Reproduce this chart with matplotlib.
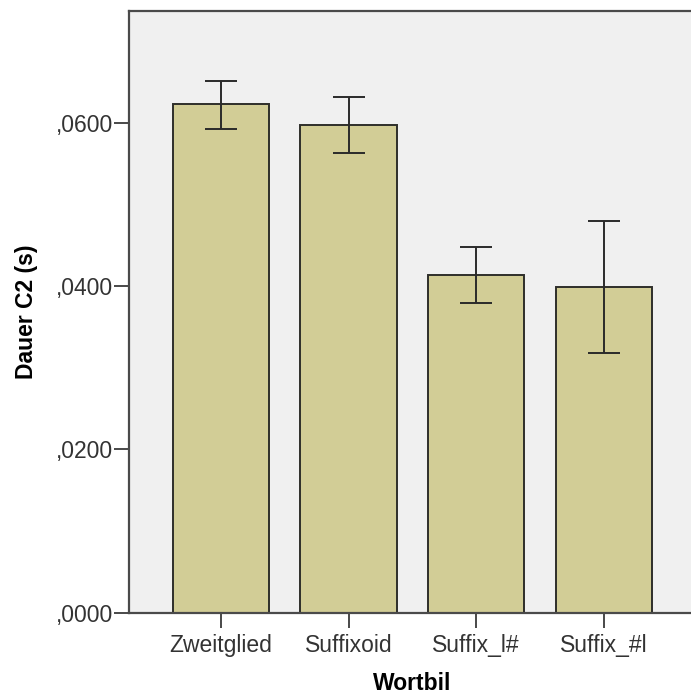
import matplotlib
matplotlib.use("Agg")
import matplotlib.pyplot as plt
from matplotlib.ticker import FuncFormatter, FixedLocator

plt.rcParams["font.family"] = ["Liberation Sans", "DejaVu Sans"]

categories = ["Zweitglied", "Suffixoid", "Suffix_l#", "Suffix_#l"]
means = [0.0623, 0.0597, 0.0414, 0.0399]
ci_low = [0.0593, 0.0563, 0.0379, 0.0318]
ci_high = [0.0651, 0.0631, 0.0448, 0.0480]
y_ticks = [0.0, 0.02, 0.04, 0.06]

fig = plt.figure(figsize=(6.91, 6.97), dpi=100)
# axes runs on past the right edge of the figure
ax_left, ax_bottom_px, ax_top_px, ax_right = 128.7, 612.7, 10.7, 696
ax = fig.add_axes([ax_left / 691, 1 - ax_bottom_px / 697,
                   (ax_right - ax_left) / 691, (ax_bottom_px - ax_top_px) / 697])
ax.set_facecolor("#f0f0f0")

x = list(range(len(categories)))
yerr = [[m - lo for m, lo in zip(means, ci_low)], [hi - m for m, hi in zip(means, ci_high)]]
ax.bar(x, means, width=0.756, color="#d2cd96", edgecolor="#2e2e2a", linewidth=1.4, zorder=2)
ax.errorbar(x, means, yerr=yerr, fmt="none", ecolor="#2a2a2a", elinewidth=1.4,
            capsize=11.5, capthick=1.4, zorder=3)

ax.set_xlim(-0.723, 3.723)
ax.set_ylim(0, 0.07373)
ax.set_xticks(x)
ax.set_xticklabels(categories)
ax.yaxis.set_major_locator(FixedLocator(y_ticks))
ax.yaxis.set_major_formatter(FuncFormatter(lambda v, p: f"{v:.4f}".replace("0.", ",", 1)))

for s in ["left", "bottom", "top", "right"]:
    ax.spines[s].set_color("#4a4a4a")
    ax.spines[s].set_linewidth(1.6)
ax.tick_params(axis="both", length=10.5, width=1.3, color="#3a3a3a",
               labelsize=16.5, labelcolor="#333333")
ax.tick_params(axis="y", pad=1)
ax.tick_params(axis="x", pad=5)

w_px = ax_right - ax_left
h_px = ax_bottom_px - ax_top_px
ax.set_ylabel("Dauer C2 (s)", fontsize=16.5, fontweight="bold", va="center")
ax.yaxis.set_label_coords((26 - ax_left) / w_px, 0.5)
ax.set_xlabel("Wortbil", fontsize=16.5, fontweight="bold", va="center")
ax.xaxis.set_label_coords((412 - ax_left) / w_px, (ax_bottom_px - 684) / h_px)

fig.savefig("out.png", dpi=100)
